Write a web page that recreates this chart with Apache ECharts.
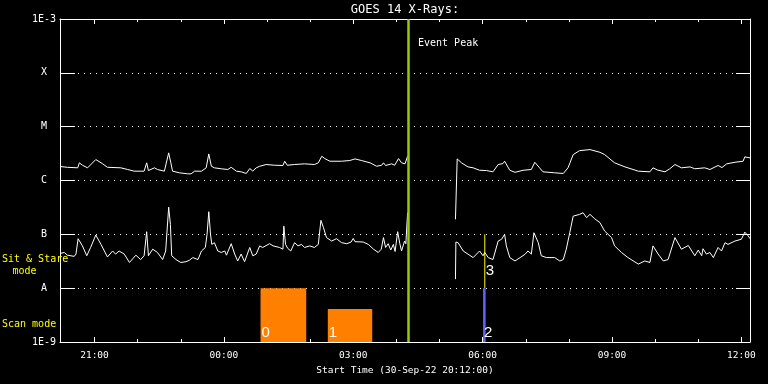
<!DOCTYPE html>
<html>
<head>
<meta charset="utf-8">
<script src="https://cdn.jsdelivr.net/npm/echarts@6/dist/echarts.min.js"></script>
<style>html,body{margin:0;padding:0;background:#000;}#chart{width:768px;height:384px;}</style>
</head>
<body>
<div id="chart"></div>
<script>
// Hours relative to 00:00 on 01-Oct-22 (start 30-Sep-22 20:12)
const xMinHours = -3.8;
const xMaxHours = 12.2;
const majorTickHours = [-3, 0, 3, 6, 9, 12];
const minorTickHours = [-3, -2, -1, 0, 1, 2, 3, 4, 5, 6, 7, 8, 9, 10, 11, 12];
const yMin = 1e-9, yMax = 1e-3;
const classLabels = {'-9': '1E-9', '-8': 'A', '-7': 'B', '-6': 'C', '-5': 'M', '-4': 'X', '-3': '1E-3'};

// GOES long channel (1-8 A), [hour, flux W/m^2]
const longChannel = [
  [-3.80,1.82e-6],[-3.63,1.76e-6],[-3.39,1.72e-6],[-3.35,2.13e-6],[-3.28,1.92e-6],[-3.16,1.72e-6],
  [-2.97,2.45e-6],[-2.81,2.04e-6],[-2.70,1.76e-6],[-2.39,1.72e-6],[-2.23,1.60e-6],[-2.08,1.49e-6],
  [-1.85,1.49e-6],[-1.79,2.13e-6],[-1.75,1.53e-6],[-1.61,1.72e-6],[-1.54,1.60e-6],[-1.38,1.49e-6],
  [-1.28,3.26e-6],[-1.23,2.13e-6],[-1.19,1.49e-6],[-1.03,1.39e-6],[-0.84,1.33e-6],[-0.76,1.33e-6],
  [-0.68,1.49e-6],[-0.52,1.49e-6],[-0.41,1.72e-6],[-0.35,3.12e-6],[-0.29,1.84e-6],[-0.22,1.72e-6],
  [-0.06,1.65e-6],[0.09,1.60e-6],[0.17,1.76e-6],[0.29,1.49e-6],[0.40,1.45e-6],[0.52,1.35e-6],
  [0.60,1.67e-6],[0.67,1.50e-6],[0.75,1.72e-6],[0.83,1.84e-6],[0.98,1.98e-6],[1.18,1.92e-6],
  [1.37,1.90e-6],[1.41,2.28e-6],[1.47,1.92e-6],[1.64,1.98e-6],[1.87,2.04e-6],[2.10,1.98e-6],
  [2.19,2.13e-6],[2.27,2.82e-6],[2.34,2.55e-6],[2.46,2.28e-6],[2.73,2.28e-6],[2.92,2.35e-6],
  [3.04,2.52e-6],[3.19,2.35e-6],[3.39,2.13e-6],[3.54,1.84e-6],[3.66,1.92e-6],[3.70,2.13e-6],
  [3.75,1.90e-6],[3.89,2.04e-6],[3.96,1.92e-6],[4.05,2.55e-6],[4.12,2.13e-6],[4.20,2.04e-6],
  [4.26,2.82e-6],[4.30,null],
  [5.37,1.90e-7],[5.41,2.52e-6],[5.51,2.13e-6],[5.66,1.79e-6],[5.78,1.72e-6],[5.93,1.55e-6],
  [6.09,1.53e-6],[6.24,1.45e-6],[6.36,1.98e-6],[6.47,2.06e-6],[6.51,2.28e-6],[6.63,1.55e-6],
  [6.75,1.42e-6],[6.94,1.55e-6],[7.13,1.60e-6],[7.21,2.18e-6],[7.32,1.72e-6],[7.40,1.45e-6],
  [7.67,1.39e-6],[7.87,1.35e-6],[7.98,1.72e-6],[8.10,3.03e-6],[8.25,3.59e-6],[8.49,3.75e-6],
  [8.72,3.34e-6],[8.83,3.03e-6],[9.06,2.13e-6],[9.30,1.79e-6],[9.61,1.49e-6],[9.88,1.45e-6],
  [9.95,1.72e-6],[10.06,1.56e-6],[10.23,1.45e-6],[10.34,1.65e-6],[10.46,1.98e-6],[10.61,1.72e-6],
  [10.81,1.79e-6],[10.92,1.65e-6],[11.15,1.72e-6],[11.27,1.60e-6],[11.46,1.90e-6],[11.55,1.74e-6],
  [11.66,2.04e-6],[11.85,2.18e-6],[12.04,2.28e-6],[12.08,2.75e-6],[12.20,2.63e-6]
];

// GOES short channel (0.5-4 A), [hour, flux W/m^2]
const shortChannel = [
  [-3.80,4.4e-8],[-3.70,4.6e-8],[-3.63,4.1e-8],[-3.47,3.9e-8],[-3.43,4.3e-8],[-3.38,8.3e-8],
  [-3.28,6.1e-8],[-3.18,4.0e-8],[-3.09,5.7e-8],[-2.97,9.7e-8],[-2.85,6.5e-8],[-2.70,3.8e-8],
  [-2.58,4.9e-8],[-2.51,4.3e-8],[-2.43,4.9e-8],[-2.31,4.3e-8],[-2.19,3.0e-8],[-2.04,4.1e-8],
  [-1.93,3.4e-8],[-1.85,4.0e-8],[-1.79,1.12e-7],[-1.75,4.0e-8],[-1.65,5.3e-8],[-1.54,4.6e-8],
  [-1.42,3.4e-8],[-1.35,4.9e-8],[-1.28,3.2e-7],[-1.24,1.53e-7],[-1.21,4.0e-8],[-1.11,3.4e-8],
  [-1.00,3.0e-8],[-0.88,3.1e-8],[-0.80,3.3e-8],[-0.72,3.7e-8],[-0.60,3.4e-8],[-0.52,4.9e-8],
  [-0.43,5.7e-8],[-0.39,1.0e-7],[-0.35,2.63e-7],[-0.31,1.0e-7],[-0.28,6.5e-8],[-0.22,7.0e-8],
  [-0.14,4.9e-8],[-0.06,4.6e-8],[0.02,4.9e-8],[0.06,4.1e-8],[0.17,6.7e-8],[0.25,4.3e-8],
  [0.32,3.2e-8],[0.40,4.3e-8],[0.48,3.1e-8],[0.60,5.7e-8],[0.67,4.0e-8],[0.75,4.3e-8],
  [0.83,6.1e-8],[0.90,5.7e-8],[1.06,6.7e-8],[1.14,6.1e-8],[1.29,5.7e-8],[1.37,5.3e-8],
  [1.39,1.42e-7],[1.43,6.5e-8],[1.48,5.5e-8],[1.55,4.9e-8],[1.64,7.0e-8],[1.72,6.1e-8],
  [1.80,6.5e-8],[1.87,5.7e-8],[1.99,6.1e-8],[2.10,5.7e-8],[2.19,6.5e-8],[2.25,1.82e-7],
  [2.31,1.33e-7],[2.38,8.7e-8],[2.50,7.5e-8],[2.61,8.3e-8],[2.73,7.0e-8],[2.85,6.7e-8],
  [2.95,7.2e-8],[3.00,8.4e-8],[3.04,7.3e-8],[3.23,7.2e-8],[3.35,6.5e-8],[3.47,5.3e-8],
  [3.58,4.6e-8],[3.65,5.3e-8],[3.70,8.7e-8],[3.75,5.7e-8],[3.81,6.7e-8],[3.87,5.1e-8],
  [3.93,6.5e-8],[3.97,4.8e-8],[4.03,1.12e-7],[4.08,6.7e-8],[4.12,4.9e-8],[4.19,7.5e-8],
  [4.22,6.7e-8],[4.26,2.52e-7],[4.30,null],
  [5.37,1.47e-8],[5.38,7.2e-8],[5.43,7.0e-8],[5.55,4.9e-8],[5.66,4.3e-8],[5.78,3.7e-8],
  [5.86,4.3e-8],[5.93,4.9e-8],[6.01,4.0e-8],[6.05,4.6e-8],[6.13,3.7e-8],[6.24,3.4e-8],
  [6.36,7.5e-8],[6.44,8.1e-8],[6.51,1.0e-7],[6.55,6.1e-8],[6.63,3.7e-8],[6.75,3.2e-8],
  [6.87,3.7e-8],[6.99,4.3e-8],[7.05,4.9e-8],[7.13,4.3e-8],[7.19,1.07e-7],[7.29,7.0e-8],
  [7.36,4.0e-8],[7.48,3.7e-8],[7.67,3.7e-8],[7.79,3.2e-8],[7.87,3.4e-8],[7.94,5.3e-8],
  [8.02,1.07e-7],[8.10,2.18e-7],[8.25,2.35e-7],[8.33,2.52e-7],[8.41,2.04e-7],[8.49,2.35e-7],
  [8.60,1.94e-7],[8.72,1.65e-7],[8.83,1.15e-7],[8.99,8.7e-8],[9.06,6.1e-8],[9.22,4.6e-8],
  [9.37,3.7e-8],[9.61,2.8e-8],[9.76,3.2e-8],[9.88,3.0e-8],[9.95,6.1e-8],[10.07,4.3e-8],
  [10.19,3.2e-8],[10.30,3.4e-8],[10.46,8.7e-8],[10.61,5.3e-8],[10.77,6.2e-8],[10.92,4.0e-8],
  [11.00,5.1e-8],[11.08,4.0e-8],[11.11,5.4e-8],[11.19,4.3e-8],[11.27,4.6e-8],[11.35,3.7e-8],
  [11.46,5.7e-8],[11.54,4.9e-8],[11.62,7.0e-8],[11.69,6.5e-8],[11.85,7.5e-8],[12.00,8.1e-8],
  [12.08,1.1e-7],[12.16,9.3e-8],[12.20,8.3e-8]
];

// Observation blocks: [startHour, endHour, topValue]
const blockSpans = [[0.85, 1.91, 1e-8], [2.41, 3.44, 4.1e-9], [6.01, 6.07, 1e-8]];
const blockLabels = ['0', '1', '2'];
const blockColors = ['#ff8000', '#ff8000', '#6060ff'];
// Marker line: [hour, top, bottom]
const markerSpans = [[6.05, 1e-7, 1e-8]];
const markerLabels = ['3'];
const eventPeakHour = 4.28;

const fontMono = '"DejaVu Sans Mono", monospace';
const chart = echarts.init(document.getElementById('chart'), null, {renderer: 'canvas'});

function hourLabel(h) {
  const hh = ((Math.round(h) % 24) + 24) % 24;
  return (hh < 10 ? '0' : '') + hh + ':00';
}

function xAxisDef(position, major, showLine, showLabel, withName) {
  const ax = {
    type: 'value', position: position, min: xMinHours, max: xMaxHours,
    axisLine: {show: showLine, onZero: false, lineStyle: {color: '#fff', width: 1}},
    axisTick: {show: true, inside: true, length: major ? 5 : 3, customValues: major ? majorTickHours : minorTickHours,
      lineStyle: {color: '#fff', width: 1}},
    axisLabel: {show: showLabel, customValues: majorTickHours, formatter: hourLabel, color: '#fff',
      fontFamily: fontMono, fontSize: 9.5, margin: 9},
    splitLine: {show: false}
  };
  if (withName) {
    ax.name = 'Start Time (30-Sep-22 20:12:00)';
    ax.nameLocation = 'middle';
    ax.nameGap = 22;
    ax.nameTextStyle = {color: '#fff', fontFamily: fontMono, fontSize: 9.5, verticalAlign: 'top'};
  }
  return ax;
}

const option = {
  backgroundColor: '#000',
  animation: false,
  grid: {left: 60, right: 18, top: 19, bottom: 42, containLabel: false},
  xAxis: [
    xAxisDef('bottom', true, true, true, true),
    xAxisDef('bottom', false, false, false, false),
    xAxisDef('top', true, true, false, false),
    xAxisDef('top', false, false, false, false)
  ],
  yAxis: [
    {
      type: 'log', logBase: 10, min: yMin, max: yMax, splitNumber: 6, position: 'left',
      axisLine: {show: true, onZero: false, lineStyle: {color: '#fff', width: 1}},
      axisTick: {show: true, inside: true, length: 15, lineStyle: {color: '#fff', width: 1}},
      axisLabel: {color: '#fff', fontFamily: fontMono, fontSize: 10, align: 'center', margin: 16,
        formatter: function (v) { return classLabels[String(Math.round(Math.log10(v)))] || ''; }},
      splitLine: {show: true, lineStyle: {color: '#fff', width: 1, type: [1, 5]}},
      minorTick: {show: false}
    },
    {
      type: 'log', logBase: 10, min: yMin, max: yMax, splitNumber: 6, position: 'right',
      axisLine: {show: true, onZero: false, lineStyle: {color: '#fff', width: 1}},
      axisTick: {show: true, inside: true, length: 14, lineStyle: {color: '#fff', width: 1}},
      axisLabel: {show: false},
      splitLine: {show: false}
    }
  ],
  series: [
    {
      type: 'custom', xAxisIndex: 0, yAxisIndex: 0, clip: true,
      data: blockSpans,
      encode: {x: [0, 1], y: 2},
      renderItem: function (params, api) {
        const i = params.dataIndex;
        const p0 = api.coord([api.value(0), api.value(2)]);
        const p1 = api.coord([api.value(1), yMin]);
        return {type: 'group', children: [
          {type: 'rect', shape: {x: p0[0], y: p0[1], width: p1[0] - p0[0], height: p1[1] - p0[1]},
            style: {fill: blockColors[i]}},
          {type: 'text', x: p0[0] + 1, y: p1[1] - 2,
            style: {text: blockLabels[i], fill: '#fff', font: '15px "Liberation Sans"', align: 'left', verticalAlign: 'bottom'}}
        ]};
      },
      z: 2
    },
    {
      type: 'custom', xAxisIndex: 0, yAxisIndex: 0, clip: true,
      data: markerSpans,
      encode: {x: 0, y: [1, 2]},
      renderItem: function (params, api) {
        const i = params.dataIndex;
        const p0 = api.coord([api.value(0), api.value(1)]);
        const p1 = api.coord([api.value(0), api.value(2)]);
        return {type: 'group', children: [
          {type: 'line', shape: {x1: p0[0], y1: p0[1], x2: p1[0], y2: p1[1]}, style: {stroke: '#ffff00', lineWidth: 1}},
          {type: 'text', x: p0[0] + 1, y: p1[1] - 10,
            style: {text: markerLabels[i], fill: '#fff', font: '15px "Liberation Sans"', align: 'left', verticalAlign: 'bottom'}}
        ]};
      },
      z: 3
    },
    {
      type: 'line', name: 'Long', xAxisIndex: 0, yAxisIndex: 0, data: longChannel,
      showSymbol: false, symbol: 'none', connectNulls: false,
      lineStyle: {color: '#fff', width: 1}, z: 4,
      markLine: {
        silent: true, symbol: ['none', 'none'],
        label: {show: false},
        lineStyle: {color: '#99cc00', width: 2.5, type: 'solid'},
        data: [{xAxis: eventPeakHour}]
      }
    },
    {
      type: 'line', name: 'Short', xAxisIndex: 0, yAxisIndex: 0, data: shortChannel,
      showSymbol: false, symbol: 'none', connectNulls: false,
      lineStyle: {color: '#fff', width: 1}, z: 4
    }
  ],
  graphic: [
    {type: 'text', x: 405, y: 10, style: {text: 'GOES 14 X-Rays:', fill: '#fff', font: '12px ' + fontMono, align: 'center', verticalAlign: 'middle'}},
    {type: 'text', x: 418, y: 43, style: {text: 'Event Peak', fill: '#fff', font: '10px ' + fontMono, align: 'left', verticalAlign: 'middle'}},
    {type: 'text', x: 2, y: 259, z: 10, style: {text: 'Sit & Stare', fill: '#ffff00', font: '10px ' + fontMono, align: 'left', verticalAlign: 'middle'}},
    {type: 'text', x: 24.5, y: 271, style: {text: 'mode', fill: '#ffff00', font: '10px ' + fontMono, align: 'center', verticalAlign: 'middle'}},
    {type: 'text', x: 2, y: 324, style: {text: 'Scan mode', fill: '#ffff00', font: '10px ' + fontMono, align: 'left', verticalAlign: 'middle'}}
  ]
};
chart.setOption(option);
</script>
</body>
</html>
